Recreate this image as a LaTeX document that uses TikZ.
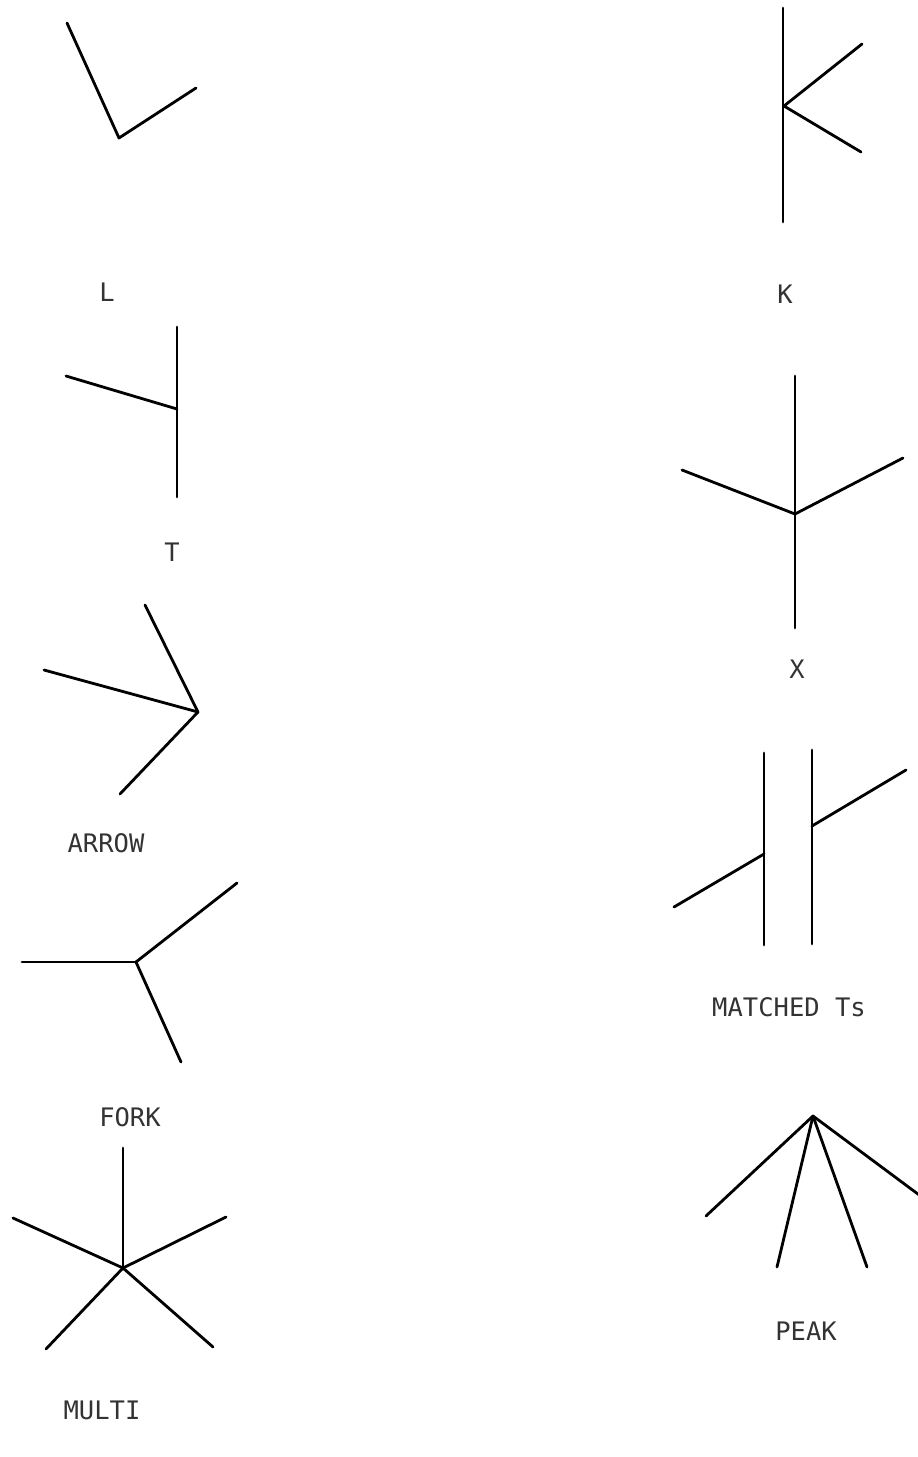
\documentclass[tikz,border=0pt]{standalone}
\usepackage{fontspec}
\setmonofont{DejaVu Sans Mono}
\begin{document}
\begin{tikzpicture}[x=1pt,y=-1pt,
  edge/.style={line width=2.8pt,line cap=round,line join=round,black},
  lbl/.style={font=\ttfamily\fontsize{25.5}{26}\selectfont,text=black!80,inner sep=0pt}]
\useasboundingbox (0,0) rectangle (918,1457);

% L junction
\coordinate (La) at (67,23);
\coordinate (Lv) at (119,138);
\coordinate (Lb) at (196,88);
\draw[edge] (La) -- (Lv) -- (Lb);
\node[lbl] (Lt) at (107,292) {L};

% T junction
\coordinate (Ttop) at (177,327);
\coordinate (Tbot) at (177,497);
\coordinate (Tv) at (177,409);
\coordinate (Ts) at (66,376);
\draw[edge] (Ttop) -- (Tbot);
\draw[edge] (Ts) -- (Tv);
\node[lbl] (Tt) at (172,552) {T};

% ARROW junction
\coordinate (Av) at (198,712);
\coordinate (Aa) at (145,605);
\coordinate (Ab) at (44,670);
\coordinate (Ac) at (120,794);
\draw[edge] (Aa) -- (Av);
\draw[edge] (Ab) -- (Av);
\draw[edge] (Ac) -- (Av);
\node[lbl] (At) at (106,843) {ARROW};

% FORK junction
\coordinate (Fv) at (136,962);
\coordinate (Fa) at (22,962);
\coordinate (Fb) at (237,883);
\coordinate (Fc) at (181,1062);
\draw[edge] (Fa) -- (Fv);
\draw[edge] (Fb) -- (Fv);
\draw[edge] (Fc) -- (Fv);
\node[lbl] (Ft) at (130,1117) {FORK};

% MULTI junction
\coordinate (Mv) at (123,1268);
\coordinate (Ma) at (123,1148);
\coordinate (Mb) at (13,1218);
\coordinate (Mc) at (226,1217);
\coordinate (Md) at (46,1349);
\coordinate (Me) at (213,1347);
\foreach \e in {Ma,Mb,Mc,Md,Me} \draw[edge] (\e) -- (Mv);
\node[lbl] (Mt) at (102,1410) {MULTI};

% K junction
\coordinate (Ktop) at (783,8);
\coordinate (Kbot) at (783,222);
\coordinate (Kv) at (784,106);
\coordinate (Ka) at (862,44);
\coordinate (Kb) at (861,152);
\draw[edge] (Ktop) -- (Kbot);
\draw[edge] (Ka) -- (Kv) -- (Kb);
\node[lbl] (Kt) at (785,294) {K};

% X junction
\coordinate (Xtop) at (795,376);
\coordinate (Xbot) at (795,628);
\coordinate (Xv) at (795,514);
\coordinate (Xa) at (682,470);
\coordinate (Xb) at (903,458);
\draw[edge] (Xtop) -- (Xbot);
\draw[edge] (Xa) -- (Xv) -- (Xb);
\node[lbl] (Xt) at (797,669) {X};

% matched T pair
\coordinate (Pltop) at (764,753);
\coordinate (Plbot) at (764,945);
\coordinate (Plv) at (764,854);
\coordinate (Pls) at (674,907);
\coordinate (Prtop) at (812,750);
\coordinate (Prbot) at (812,944);
\coordinate (Prv) at (812,826);
\coordinate (Prs) at (906,770);
\draw[edge] (Pltop) -- (Plbot);
\draw[edge] (Pls) -- (Plv);
\draw[edge] (Prtop) -- (Prbot);
\draw[edge] (Prs) -- (Prv);
\node[lbl] (Pt) at (789,1007) {MATCHED Ts};

% PEAK junction
\coordinate (Kpv) at (813,1116);
\coordinate (Kpa) at (706,1216);
\coordinate (Kpb) at (777,1267);
\coordinate (Kpc) at (867,1267);
\coordinate (Kpd) at (930,1203);
\foreach \e in {Kpa,Kpb,Kpc,Kpd} \draw[edge] (\e) -- (Kpv);
\node[lbl] (Kpt) at (806,1331) {PEAK};
\end{tikzpicture}
\end{document}
